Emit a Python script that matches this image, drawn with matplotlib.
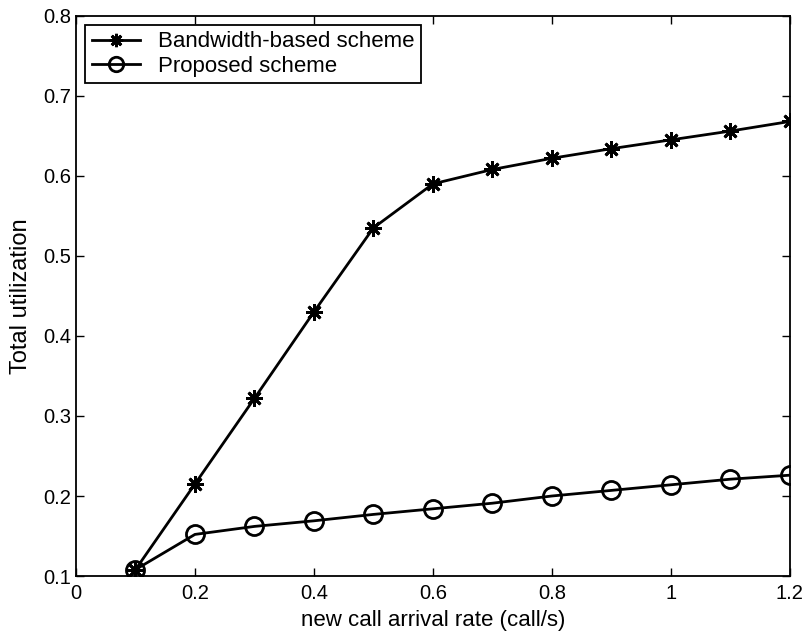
import matplotlib
matplotlib.use("Agg")
import matplotlib.pyplot as plt

plt.rcParams['font.family'] = ['Liberation Sans', 'DejaVu Sans']

# data
rate = [0.1, 0.2, 0.3, 0.4, 0.5, 0.6, 0.7, 0.8, 0.9, 1.0, 1.1, 1.2]
bandwidth = [0.108, 0.215, 0.322, 0.430, 0.535, 0.590, 0.608, 0.622, 0.634, 0.645, 0.656, 0.668]
proposed = [0.108, 0.152, 0.162, 0.169, 0.177, 0.184, 0.191, 0.200, 0.207, 0.214, 0.221, 0.226]

xticks = [0, 0.2, 0.4, 0.6, 0.8, 1.0, 1.2]
xticklabels = ['0', '0.2', '0.4', '0.6', '0.8', '1', '1.2']
yticks = [0.1, 0.2, 0.3, 0.4, 0.5, 0.6, 0.7, 0.8]

fig = plt.figure(figsize=(8.03, 6.33), dpi=100)
ax = fig.add_axes([0.0946, 0.090, 0.889, 0.885])

ax.plot(rate, bandwidth, color='black', lw=2, marker=(8, 2, 0), ms=12, mew=2,
        label='Bandwidth-based scheme')
ax.plot(rate, proposed, color='black', lw=2, marker='o', ms=13, mfc='none', mew=2,
        label='Proposed scheme')

ax.set_xlim(0, 1.2)
ax.set_ylim(0.1, 0.8)
ax.set_xticks(xticks)
ax.set_xticklabels(xticklabels)
ax.set_yticks(yticks)
ax.tick_params(direction='in', top=True, right=True, labelsize=14.5, length=6, width=1)
ax.tick_params(axis='x', pad=6)
for s in ax.spines.values():
    s.set_linewidth(1.3)

ax.set_xlabel('new call arrival rate (call/s)', fontsize=16, labelpad=5)
ax.set_ylabel('Total utilization', fontsize=17, labelpad=8)

leg = ax.legend(loc='upper left', fontsize=16, fancybox=False, edgecolor='black',
                framealpha=1, borderaxespad=0.4, handlelength=2.2, handletextpad=0.8,
                labelspacing=0.15, borderpad=0.3, markerscale=0.8)
leg.get_frame().set_linewidth(1.3)

fig.savefig('out.png', dpi=100)
